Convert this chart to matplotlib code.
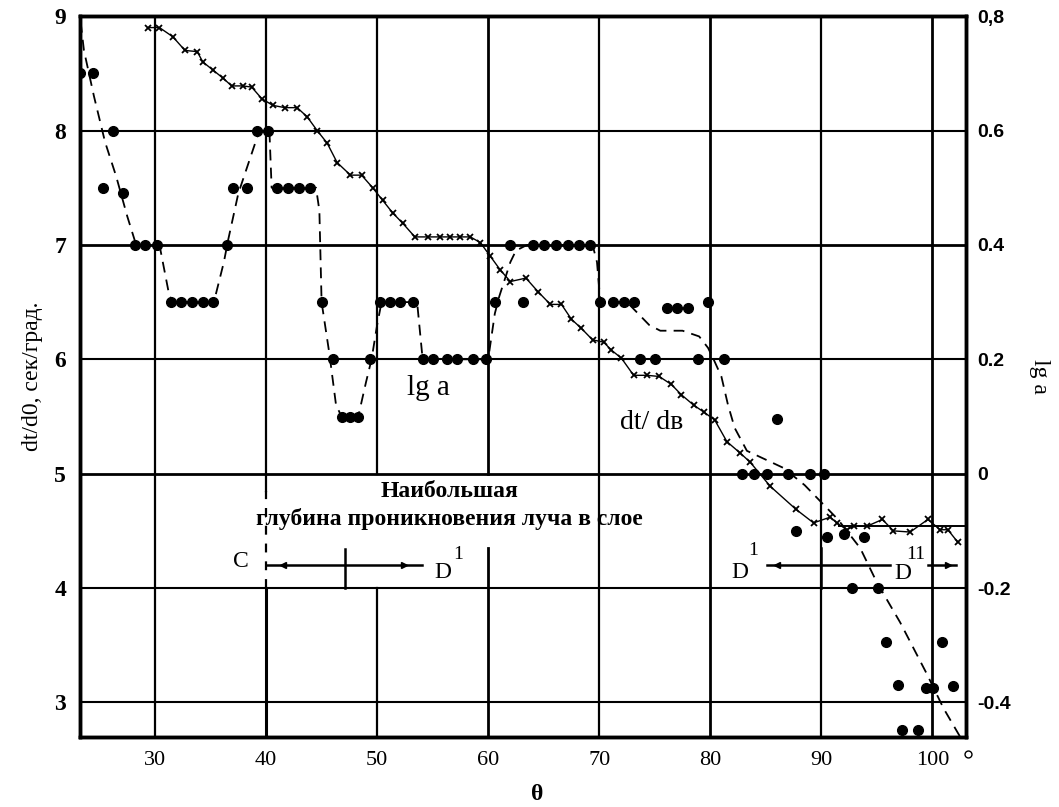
import matplotlib
matplotlib.use('Agg')
import matplotlib.pyplot as plt

plt.rcParams['font.family'] = ['Liberation Serif', 'DejaVu Serif']

# dt/dθ (crosses), left axis, сек/град
theta_x = [29.4, 30.4, 31.6, 32.7, 33.8, 34.3, 35.2, 36.1, 36.9, 37.9, 38.7, 39.6,
           40.6, 41.7, 42.8, 43.7, 44.6, 45.5, 46.4, 47.6, 48.6, 49.6, 50.5, 51.4,
           52.3, 53.4, 54.6, 55.7, 56.6, 57.5, 58.4, 59.3, 60.2, 61.1, 62.0, 63.4,
           64.5, 65.6, 66.6, 67.5, 68.4, 69.4, 70.4, 71.1, 72.0, 73.1, 74.3, 75.4,
           76.5, 77.4, 78.5, 79.4, 80.4, 81.5, 82.7, 83.6, 85.4, 87.7, 89.3, 90.8,
           91.4, 92.3, 92.9, 94.1, 95.5, 96.5, 98.0, 99.6, 100.7, 101.4, 102.3]
dtdtheta = [8.90, 8.90, 8.82, 8.70, 8.69, 8.60, 8.53, 8.46, 8.39, 8.39, 8.38, 8.28,
            8.22, 8.20, 8.20, 8.12, 8.00, 7.89, 7.72, 7.61, 7.61, 7.50, 7.39, 7.28,
            7.19, 7.07, 7.07, 7.07, 7.07, 7.07, 7.07, 7.02, 6.90, 6.78, 6.68, 6.71,
            6.59, 6.48, 6.48, 6.35, 6.27, 6.17, 6.15, 6.08, 6.01, 5.86, 5.86, 5.85,
            5.78, 5.69, 5.60, 5.54, 5.47, 5.28, 5.18, 5.10, 4.89, 4.69, 4.57, 4.62,
            4.57, 4.51, 4.54, 4.54, 4.60, 4.50, 4.49, 4.60, 4.51, 4.51, 4.40]
plateau_level = 4.54

# lg a (dots), right axis
theta_a = [23.2, 24.4, 25.3, 26.2, 27.1, 28.2, 29.1, 30.2, 31.4, 32.3, 33.3, 34.3,
           35.2, 36.5, 37.0, 38.3, 39.2, 40.2, 41.0, 42.0, 43.0, 44.0, 45.0, 46.0,
           46.8, 47.6, 48.3, 49.4, 50.3, 51.2, 52.1, 53.2, 54.1, 55.0, 56.3, 57.2,
           58.6, 59.8, 60.6, 62.0, 63.1, 64.0, 65.0, 66.1, 67.2, 68.2, 69.2, 70.1,
           71.2, 72.2, 73.1, 73.7, 75.0, 76.1, 77.0, 78.0, 78.9, 79.8, 81.2, 82.9,
           83.9, 85.1, 86.0, 87.0, 89.0, 90.2, 87.7, 90.5, 92.0, 93.8, 92.8, 95.1,
           95.8, 100.9, 96.9, 99.4, 100.1, 101.9, 97.3, 98.7]
lg_a = [0.70, 0.70, 0.50, 0.60, 0.49, 0.40, 0.40, 0.40, 0.30, 0.30, 0.30, 0.30,
        0.30, 0.40, 0.50, 0.50, 0.60, 0.60, 0.50, 0.50, 0.50, 0.50, 0.30, 0.20,
        0.10, 0.10, 0.10, 0.20, 0.30, 0.30, 0.30, 0.30, 0.20, 0.20, 0.20, 0.20,
        0.20, 0.20, 0.30, 0.40, 0.30, 0.40, 0.40, 0.40, 0.40, 0.40, 0.40, 0.30,
        0.30, 0.30, 0.30, 0.20, 0.20, 0.29, 0.29, 0.29, 0.20, 0.30, 0.20, 0.00,
        0.00, 0.00, 0.095, 0.00, 0.00, 0.00, -0.10, -0.11, -0.105, -0.11, -0.20, -0.20,
        -0.295, -0.295, -0.37, -0.375, -0.375, -0.372, -0.448, -0.448]

# dashed smoothing curve through lg a
theta_c = [23.3, 23.6, 24.5, 25.5, 26.5, 27.5, 28.3, 30.4, 31.3, 31.8, 35.3, 36.2,
           36.6, 37.5, 39.4, 40.3, 40.5, 44.5, 44.8, 45.0, 45.7, 46.3, 46.8, 48.3,
           49.0, 49.5, 50.0, 50.4, 53.6, 54.1, 60.0, 60.6, 61.0, 62.0, 62.5, 63.5,
           69.4, 69.8, 70.1, 72.5, 73.5, 74.5, 75.5, 77.5, 79.0, 79.8, 80.3, 81.0,
           81.6, 82.2, 83.3, 86.6, 88.5, 90.0, 91.5, 93.5, 95.0, 97.1, 99.5, 101.0,
           102.5]
lg_c = [0.79, 0.74, 0.66, 0.58, 0.52, 0.45, 0.40, 0.40, 0.31, 0.30, 0.30, 0.37,
        0.41, 0.49, 0.60, 0.60, 0.50, 0.50, 0.46, 0.30, 0.21, 0.12, 0.10, 0.10,
        0.16, 0.20, 0.26, 0.30, 0.30, 0.20, 0.20, 0.28, 0.31, 0.37, 0.39, 0.40,
        0.40, 0.37, 0.30, 0.30, 0.28, 0.26, 0.25, 0.25, 0.24, 0.22, 0.20, 0.17,
        0.12, 0.08, 0.04, 0.01, -0.02, -0.05, -0.08, -0.13, -0.19, -0.26, -0.35, -0.41,
        -0.46]

left_ticks = [3, 4, 5, 6, 7, 8, 9]
right_ticks = [-0.4, -0.2, 0, 0.2, 0.4, 0.6, 0.8]
right_labels = ['-0.4', '-0.2', '0', '0.2', '0.4', '0.6', '0,8']
x_ticks = [30, 40, 50, 60, 70, 80, 90, 100]

fig = plt.figure(figsize=(10.59, 8.07), dpi=100)
ax = fig.add_axes([0.0755, 0.087, 0.837, 0.893])
ax.set_xlim(23.24, 103.06)
ax.set_ylim(2.70, 9.0)
ax2 = ax.twinx()
ax2.set_ylim((2.70 - 5) * 0.2, (9.0 - 5) * 0.2)

# grid (with the breaks where the labels sit)
for x in x_ticks:
    lw = 1.6 if x % 20 else 2.0
    if x == 40:
        ax.plot([40, 40], [2.70, 4.0], color='black', lw=2.2)
        ax.plot([40, 40], [4.0, 4.85], color='black', lw=1.6, dashes=(4, 4))
        ax.plot([40, 40], [4.85, 9.0], color='black', lw=1.6)
    elif x == 50:
        ax.plot([50, 50], [2.70, 4.0], color='black', lw=lw)
        ax.plot([50, 50], [5.0, 9.0], color='black', lw=lw)
    elif x == 60:
        ax.plot([60, 60], [2.70, 4.35], color='black', lw=lw)
        ax.plot([60, 60], [5.0, 9.0], color='black', lw=lw)
    else:
        ax.axvline(x, color='black', lw=lw)
for y in left_ticks[:-1]:
    ax.axhline(y, color='black', lw=2.0 if y in (5, 7) else 1.5)

for s in ax.spines.values():
    s.set_linewidth(2.5)
for s in ax2.spines.values():
    s.set_linewidth(2.5)

# series
ax.plot(theta_x, dtdtheta, color='black', lw=1.0, marker='x', ms=5, mew=1.3)
ax.hlines(plateau_level, 91.5, 103.06, color='black', lw=1.4)
ax2.plot(theta_c, lg_c, color='black', lw=1.3, dashes=(6, 4))
ax2.plot(theta_a, lg_a, 'o', color='black', ms=7)
ax2.plot([103.2], [-0.49], 'o', mfc='white', mec='black', ms=5, clip_on=False)

# ticks
ax.set_xticks(x_ticks)
ax.set_yticks(left_ticks)
ax2.set_yticks(right_ticks)
ax2.set_yticklabels(right_labels)
ax.tick_params(axis='both', length=0)
ax2.tick_params(axis='y', length=0, pad=8)
ax.tick_params(axis='y', pad=10)
ax.tick_params(axis='x', pad=10)
for lab in ax.get_yticklabels():
    lab.set_fontsize(17)
    lab.set_fontweight('bold')
for lab in ax.get_xticklabels():
    lab.set_fontsize(16)
for lab in ax2.get_yticklabels():
    lab.set_fontsize(14)
    lab.set_fontweight('bold')
    lab.set_family(['Liberation Sans', 'DejaVu Sans'])

ax.set_ylabel('dt/d0, сек/град.', fontsize=17, labelpad=8)
ax2.set_ylabel('lg a', fontsize=17, rotation=270, labelpad=28)
ax.set_xlabel('θ', fontsize=17, fontweight='bold')
ax.xaxis.set_label_coords((537 - 80) / 886, -0.065)

# annotations
ax.text(54.6, 5.75, 'lg a', fontsize=21, ha='center', va='center')
ax.text(74.7, 5.45, 'dt/ dв', fontsize=20, ha='center', va='center')
ax.text(56.5, 4.84, 'Наибольшая', fontsize=17, fontweight='bold', ha='center', va='center')
ax.text(56.5, 4.60, 'глубина проникновения луча в слое', fontsize=17, fontweight='bold',
        ha='center', va='center')

ax.text(37.7, 4.23, 'C', fontsize=17, ha='center', va='center')
ax.plot([40.1, 54.0], [4.2, 4.2], color='black', lw=1.8)
ax.plot([41.5], [4.2], marker='<', color='black', ms=5)
ax.plot([52.4], [4.2], marker='>', color='black', ms=5)
ax.plot([47.1, 47.1], [4.0, 4.34], color='black', lw=1.8)
ax.text(55.9, 4.14, 'D', fontsize=17, ha='center', va='center')
ax.text(57.3, 4.29, '1', fontsize=14, ha='center', va='center')

ax.text(82.7, 4.14, 'D', fontsize=17, ha='center', va='center')
ax.text(83.9, 4.33, '1', fontsize=14, ha='center', va='center')
ax.plot([85.1, 96.2], [4.2, 4.2], color='black', lw=1.8)
ax.plot([86.0], [4.2], marker='<', color='black', ms=5)
ax.plot([90.0, 90.0], [4.0, 4.35], color='black', lw=1.8)
ax.text(97.3, 4.13, 'D', fontsize=17, ha='center', va='center')
ax.text(98.5, 4.29, '11', fontsize=14, ha='center', va='center')
ax.plot([99.6, 102.1], [4.2, 4.2], color='black', lw=1.8)
ax.plot([101.4], [4.2], marker='>', color='black', ms=4)

fig.savefig('out.png', dpi=100)
